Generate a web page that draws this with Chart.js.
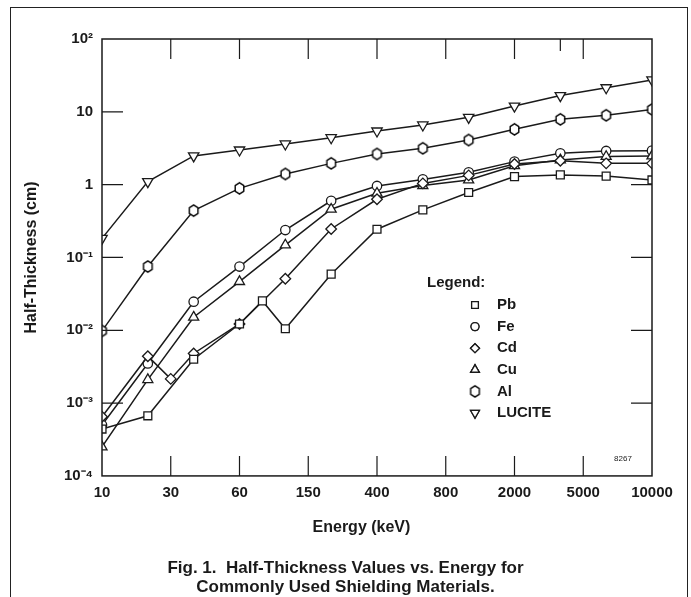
<!DOCTYPE html>
<html>
<head>
<meta charset="utf-8">
<script src="https://cdn.jsdelivr.net/npm/chart.js@4.4.0/dist/chart.umd.min.js"></script>
<style>
    html, body { margin: 0; padding: 0; background: #fff; }
    #wrap { position: relative; width: 691px; height: 597px; overflow: hidden; }
    #frame { position: absolute; left: 10px; top: 7px; width: 676px; height: 650px; border: 1.5px solid #222; }
    #hvlChart { position: absolute; left: 0; top: 0; }
</style>
</head>
<body>
<div id="wrap">
    <div id="frame"></div>
    <canvas id="hvlChart" width="691" height="597"></canvas>
</div>
<script>
// energy axis labels (the axis is drawn with evenly spaced labels)
var tickLabels = ['10', '30', '60', '150', '400', '800', '2000', '5000', '10000'];
var yTickLabels = ['10\u207B\u2074', '10\u207B\u00B3', '10\u207B\u00B2', '10\u207B\u00B9', '1', '10', '10\u00B2'];

// sample positions on the energy axis, in thirds of a labelled interval
var steps = [0, 2, 4, 6, 8, 10, 12, 14, 16, 18, 20, 22, 24];
var pbSteps = [0, 2, 4, 6, 7, 8, 10, 12, 14, 16, 18, 20, 22, 24];
var cdSteps = [0, 2, 3, 4, 6, 8, 10, 12, 14, 16, 18, 20, 22, 24];

// half-thickness, cm
var pb = [0.00044, 0.00067, 0.0040, 0.0122, 0.0253, 0.0105, 0.059, 0.244, 0.45, 0.78, 1.29, 1.36, 1.31, 1.16];
var fe = [0.00050, 0.0035, 0.0247, 0.075, 0.238, 0.60, 0.96, 1.18, 1.48, 2.07, 2.70, 2.90, 2.93];
var cd = [0.00065, 0.0044, 0.00215, 0.0048, 0.0122, 0.051, 0.246, 0.63, 1.04, 1.34, 1.92, 2.13, 1.96, 1.96];
var cu = [0.00025, 0.0021, 0.0151, 0.0466, 0.148, 0.459, 0.76, 0.97, 1.16, 1.82, 2.18, 2.43, 2.48];
var al = [0.0098, 0.075, 0.44, 0.89, 1.40, 1.96, 2.64, 3.16, 4.10, 5.75, 7.89, 8.96, 10.8];
var lucite = [0.183, 1.10, 2.48, 2.99, 3.62, 4.41, 5.45, 6.6, 8.4, 12.0, 16.7, 21.4, 27.4];

var ink = '#1a1a1a';
var fontFamily = '"Liberation Sans", Arial, Helvetica, sans-serif';

function pairs(xs, ys) {
    return ys.map(function (v, i) { return { x: xs[i], y: v }; });
}

// hexagon marker used for Al
var hexMarker = document.createElement('canvas');
hexMarker.width = 13;
hexMarker.height = 15;
(function () {
    var c = hexMarker.getContext('2d');
    c.beginPath();
    c.moveTo(6.5, 1.8);
    c.lineTo(10.8, 4.6);
    c.lineTo(10.8, 10.4);
    c.lineTo(6.5, 13.2);
    c.lineTo(2.2, 10.4);
    c.lineTo(2.2, 4.6);
    c.closePath();
    c.fillStyle = '#fff';
    c.fill();
    c.lineWidth = 1.4;
    c.lineJoin = 'round';
    c.strokeStyle = '#000';
    c.stroke();
})();

function series(label, xs, ys, style, radius, rotation) {
    return {
        label: label,
        data: pairs(xs, ys),
        borderColor: ink,
        borderWidth: 1.5,
        backgroundColor: '#fff',
        pointStyle: style,
        pointRadius: radius,
        pointRotation: rotation || 0,
        pointBorderWidth: 1.3,
        pointBorderColor: ink,
        pointBackgroundColor: '#fff',
        tension: 0,
        fill: false
    };
}

var datasets = [
    series('LUCITE', steps, lucite, 'triangle', 6, 180),
    series('Al', steps, al, hexMarker, 5),
    series('Pb', pbSteps, pb, 'rect', 5.6),
    series('Cd', cdSteps, cd, 'rectRot', 5.3),
    series('Cu', steps, cu, 'triangle', 5.8),
    series('Fe', steps, fe, 'circle', 4.7)
];
var legendOrder = ['Pb', 'Fe', 'Cd', 'Cu', 'Al', 'LUCITE'];

// frame, inward tick marks, legend box and drawing number
var decorations = {
    id: 'decorations',
    afterDatasetsDraw: function (chart) {
        var ctx = chart.ctx;
        var a = chart.chartArea;
        var xs = chart.scales.x;
        var ys = chart.scales.y;
        ctx.save();
        ctx.strokeStyle = ink;
        ctx.lineWidth = 1.5;
        ctx.strokeRect(a.left, a.top, a.right - a.left, a.bottom - a.top);

        ctx.lineWidth = 1.2;
        ctx.beginPath();
        [3, 6, 9, 12, 15, 18, 21].forEach(function (s) {
            var px = xs.getPixelForValue(s);
            ctx.moveTo(px, a.bottom);
            ctx.lineTo(px, a.bottom - 20);
            ctx.moveTo(px, a.top);
            ctx.lineTo(px, a.top + 20);
        });
        var extra = xs.getPixelForValue(20);
        ctx.moveTo(extra, a.top);
        ctx.lineTo(extra, a.top + 12);
        [10, 1, 0.1, 0.01, 0.001].forEach(function (v) {
            var py = ys.getPixelForValue(v);
            ctx.moveTo(a.left, py);
            ctx.lineTo(a.left + 21, py);
        });
        [1, 0.1, 0.01, 0.001].forEach(function (v) {
            var py = ys.getPixelForValue(v);
            ctx.moveTo(a.right, py);
            ctx.lineTo(a.right - 21, py);
        });
        ctx.stroke();

        // legend
        var lx = a.left + 325;
        var ly = 283;
        ctx.fillStyle = ink;
        ctx.textBaseline = 'middle';
        ctx.textAlign = 'left';
        ctx.font = 'bold 15px ' + fontFamily;
        ctx.fillText('Legend:', lx, ly);
        legendOrder.forEach(function (name, i) {
            var ds = chart.data.datasets.filter(function (d) { return d.label === name; })[0];
            var y = ly + 22 + i * 21.6;
            var mx = lx + 48;
            ctx.lineWidth = 1.3;
            ctx.strokeStyle = ink;
            ctx.fillStyle = '#fff';
            Chart.helpers.drawPoint(ctx, {
                pointStyle: ds.pointStyle,
                radius: ds.pointRadius * 0.85,
                rotation: ds.pointRotation,
                borderWidth: 1.3
            }, mx, y);
            ctx.fill();
            ctx.stroke();
            ctx.fillStyle = ink;
            ctx.fillText(ds.label, lx + 70, y);
        });

        ctx.font = '8px ' + fontFamily;
        ctx.textAlign = 'center';
        ctx.fillText('8267', 623, 459);
        ctx.restore();
    }
};

var ctx = document.getElementById('hvlChart').getContext('2d');
var hvlChart = new Chart(ctx, {
    type: 'line',
    data: { datasets: datasets },
    plugins: [decorations],
    options: {
        responsive: false,
        animation: false,
        layout: { padding: { top: 39, left: 0, right: 0, bottom: 0 } },
        plugins: {
            legend: { display: false },
            tooltip: { enabled: false },
            title: {
                display: true,
                position: 'bottom',
                text: ['Fig. 1.  Half-Thickness Values vs. Energy for', 'Commonly Used Shielding Materials.'],
                color: ink,
                font: { family: fontFamily, size: 17, weight: 'bold', lineHeight: 1.12 },
                padding: { top: 0, bottom: 0 }
            }
        },
        scales: {
            x: {
                type: 'linear',
                min: 0,
                max: 24,
                afterBuildTicks: function (scale) {
                    scale.ticks = tickLabels.map(function (t, i) { return { value: i * 3 }; });
                },
                afterFit: function (scale) { scale.height = 83; },
                ticks: {
                    color: ink,
                    maxRotation: 0,
                    padding: 8,
                    font: { family: fontFamily, size: 15, weight: 'bold' },
                    callback: function (v) { return tickLabels[v / 3]; }
                },
                grid: { display: false, drawTicks: false },
                border: { display: false },
                title: {
                    display: true,
                    // trailing spaces nudge the title left, as in the original
                    text: 'Energy (keV)\u00A0\u00A0\u00A0\u00A0\u00A0\u00A0\u00A0',
                    color: ink,
                    font: { family: fontFamily, size: 16, weight: 'bold' },
                    padding: { top: 0, bottom: 22 }
                }
            },
            y: {
                type: 'logarithmic',
                position: 'left',
                min: 0.0001,
                max: 100,
                afterBuildTicks: function (scale) {
                    scale.ticks = yTickLabels.map(function (t, i) { return { value: Math.pow(10, i - 4) }; });
                },
                afterFit: function (scale) { scale.width = 102; },
                ticks: {
                    color: ink,
                    padding: 9,
                    font: { family: fontFamily, size: 15, weight: 'bold' },
                    callback: function (v) { return yTickLabels[Math.round(Math.log10(v)) + 4]; }
                },
                grid: { display: false, drawTicks: false },
                border: { display: false },
                title: {
                    display: true,
                    text: 'Half-Thickness (cm)',
                    color: ink,
                    font: { family: fontFamily, size: 16, weight: 'bold' },
                    padding: { top: 22, bottom: 0 }
                }
            },
            yRight: {
                type: 'linear',
                position: 'right',
                afterFit: function (scale) { scale.width = 39; },
                ticks: { display: false },
                grid: { display: false, drawTicks: false },
                border: { display: false }
            }
        }
    }
});
</script>
</body>
</html>
